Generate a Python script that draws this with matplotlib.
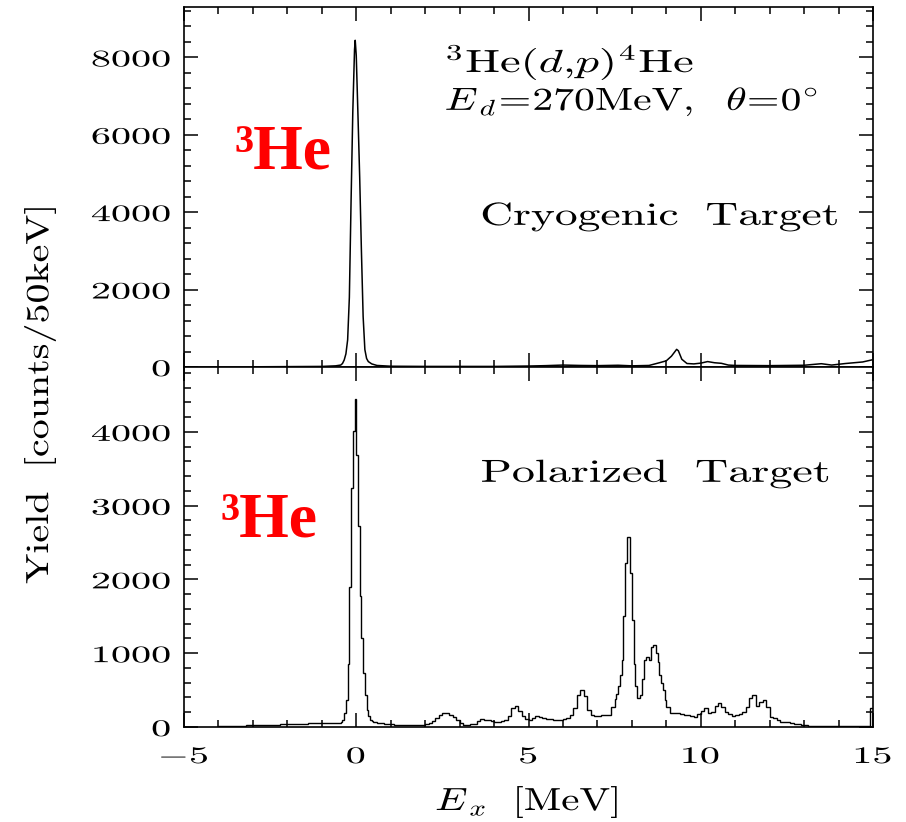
import numpy as np
import matplotlib
matplotlib.use("Agg")
import matplotlib.pyplot as plt
from matplotlib.patheffects import AbstractPathEffect
from matplotlib.transforms import Affine2D
from matplotlib.path import Path
from matplotlib.ticker import MultipleLocator, FuncFormatter

plt.rcParams["mathtext.fontset"] = "cm"
plt.rcParams["font.family"] = "DejaVu Serif"

# --- cryogenic target spectrum (smooth line), E in MeV ---
cryo_E = [-3.0, -2.0, -1.0, -0.6, -0.45, -0.4, -0.35, -0.3, -0.25, -0.2, -0.15, -0.1,
          -0.05, -0.03, 0.0, 0.05, 0.1, 0.15, 0.2, 0.25, 0.3, 0.35, 0.45, 0.6, 1.0,
          2.0, 3.0, 4.0, 5.0, 5.5, 6.0, 6.5, 7.0, 7.6, 8.0, 8.5, 8.8, 9.0, 9.15, 9.3,
          9.35, 9.45, 9.6, 9.8, 10.0, 10.2, 10.4, 10.6, 10.8, 11.0, 12.0, 13.0, 13.5,
          13.8, 14.2, 14.7, 15.0]
cryo_Y = [5, 10, 15, 30, 50, 90, 180, 340, 700, 1800, 4300, 6600,
          8200, 8440, 8050, 6500, 4900, 3000, 1300, 450, 220, 140, 80, 40, 20,
          15, 15, 15, 25, 35, 50, 40, 35, 45, 30, 40, 110, 160, 280, 456,
          420, 200, 90, 80, 100, 140, 110, 95, 50, 40, 35, 45, 85,
          50, 90, 130, 190]

# --- polarized target spectrum (histogram) ---
# 0.1 MeV bins, with 50 keV bins around the two strong peaks
pol_a = [15, 15, 15, 20, 20, 20, 20, 20, 25, 25,          # -4.0 .. -3.0
         25, 25, 30, 30, 30, 30, 30, 30, 35, 35,          # -3.0 .. -2.0
         40, 40, 45, 45, 45, 45, 50, 50, 50, 50,          # -2.0 .. -1.0
         50, 55, 55, 60, 60]                              # -1.0 .. -0.5
pol_b = [60, 70, 95, 190, 370, 860, 1900, 3240, 4010, 4450,   # -0.5 .. 0.0 (50 keV)
         3690, 2720, 1770, 1210, 730, 430, 230, 150, 95, 80]  # 0.0 .. 0.5
pol_c = [65, 55, 50, 45, 40,                                  # 0.5 .. 1.0
         35, 30, 30, 28, 25, 25, 25, 25, 28, 30,              # 1 .. 2
         40, 50, 75, 120, 160, 190, 185, 165, 130, 90,        # 2 .. 3
         50, 30, 27, 35, 45, 80, 104, 100, 95, 80,            # 3 .. 4
         72, 72, 80, 95, 150, 258, 280, 212, 145, 113,        # 4 .. 5
         95, 120, 145, 136, 120, 113, 104, 100, 95, 100,      # 5 .. 6
         110, 125, 167, 260, 440, 507, 420, 235, 167, 154,    # 6 .. 7
         155, 165, 162, 158, 270]                             # 7 .. 7.5
pol_d = [380, 450, 560, 700, 910, 1500, 2220, 2570, 2570, 2085,   # 7.5 .. 8.0 (50 keV)
         1450, 860, 550, 390, 390, 434, 650, 910, 955, 955,       # 8.0 .. 8.5
         909, 1090, 1110, 1110, 1000, 886, 700, 593, 502, 366]   # 8.5 .. 9.0
pol_e = [276, 194, 194, 194, 180, 163, 163, 150, 140, 180,    # 9 .. 10
         222, 260, 195, 210, 280, 330, 270, 210, 176, 154,    # 10 .. 11
         160, 176, 200, 267, 389, 434, 290, 344, 366, 267,    # 11 .. 12
         130, 118, 95, 72, 72, 72, 60, 41, 35, 28,            # 12 .. 13
         23, 20, 18, 15, 15, 14, 14, 14, 14, 14,              # 13 .. 14
         14, 14, 14, 14, 14, 14, 14, 14, 14, 260]             # 14 .. 15

pol_edges = np.round(np.concatenate([
    np.arange(-4.0, -0.5, 0.1),
    np.arange(-0.5, 0.5, 0.05),
    np.arange(0.5, 7.5, 0.1),
    np.arange(7.5, 9.0, 0.05),
    np.arange(9.0, 15.001, 0.1),
]), 3)
pol_Y = np.array(pol_a + pol_b + pol_c + pol_d + pol_e, dtype=float)

x_ticks = [-5, 0, 5, 10, 15]
cryo_yticks = [0, 2000, 4000, 6000, 8000]
pol_yticks = [0, 1000, 2000, 3000, 4000]


class Stretch(AbstractPathEffect):
    """Stretch text horizontally (glyph direction), by factor or to a pixel width."""

    def __init__(self, sx=None, width=None, anchor="left"):
        super().__init__()
        self.sx, self.width, self.anchor = sx, width, anchor

    def draw_path(self, renderer, gc, tpath, affine, rgbFace=None):
        v = tpath.vertices
        if tpath.codes is not None:
            v = v[tpath.codes != Path.CLOSEPOLY]
        x_min, x_max = v[:, 0].min(), v[:, 0].max()
        sx = self.sx or 1.0
        if self.width is not None:
            p0, p1 = affine.transform(np.array([[0.0, 0.0], [1.0, 0.0]]))
            unit = np.hypot(*(p1 - p0))
            sx = self.width / ((x_max - x_min) * unit)
        x0 = {"left": x_min, "right": x_max, "center": 0.5 * (x_min + x_max)}[self.anchor]
        pre = Affine2D().translate(-x0, 0).scale(sx, 1).translate(x0, 0)
        renderer.draw_path(gc, tpath, pre + affine, rgbFace)


W, H = 906, 822
fig = plt.figure(figsize=(W / 100, H / 100), dpi=100)


def fx(px):
    return px / W


def fy(py):
    return 1 - py / H


ax_top = fig.add_axes([fx(184), fy(367), 689 / W, 360 / H])
ax_bot = fig.add_axes([fx(184), fy(727), 689 / W, 360 / H], sharex=ax_top)

ax_top.plot(cryo_E, cryo_Y, color="black", lw=1.1)
ax_bot.stairs(pol_Y, pol_edges, color="black", lw=1.0)

ax_top.set_xlim(-5, 15)
ax_top.set_ylim(0, 9300)
ax_bot.set_ylim(0, 4880)
ax_top.set_yticks(cryo_yticks)
ax_bot.set_yticks(pol_yticks)
ax_bot.set_xticks(x_ticks)
ax_bot.xaxis.set_minor_locator(MultipleLocator(1))
ax_top.yaxis.set_minor_locator(MultipleLocator(400))
ax_bot.yaxis.set_minor_locator(MultipleLocator(200))

math_fmt = FuncFormatter(lambda v, pos: rf"${v:g}$")
for ax in (ax_top, ax_bot):
    ax.xaxis.set_major_formatter(math_fmt)
    ax.yaxis.set_major_formatter(math_fmt)
    for s in ax.spines.values():
        s.set_linewidth(1.2)
    ax.tick_params(which="both", direction="in", top=True, right=True, width=1.1)
    ax.tick_params(which="major", length=10, labelsize=17, pad=9)
    ax.tick_params(which="minor", length=5)
ax_top.tick_params(labelbottom=False)
ax_bot.tick_params(axis="x", pad=13)

for t in ax_top.get_yticklabels() + ax_bot.get_yticklabels():
    t.set_path_effects([Stretch(sx=1.7, anchor="right")])
for t in ax_bot.get_xticklabels():
    t.set_path_effects([Stretch(sx=1.7, anchor="center")])

txt = dict(fontsize=23, color="black", va="baseline")
fig.text(fx(445), fy(72), r"$^{3}\mathrm{He}(d{,}p)^{4}\mathrm{He}$",
         path_effects=[Stretch(width=245)], **txt)
fig.text(fx(445), fy(110), r"$E_{\,d}\!=\!270\mathrm{MeV},\ \ \theta\!=\!0^{\circ}$",
         path_effects=[Stretch(width=370)], **txt)
fig.text(fx(481), fy(225), r"$\mathrm{Cryogenic\ \ Target}$",
         path_effects=[Stretch(width=354)], **txt)
fig.text(fx(481), fy(482), r"$\mathrm{Polarized\ \ Target}$",
         path_effects=[Stretch(width=346)], **txt)

fig.text(fx(40), fy(395), r"$\mathrm{Yield\ \ [counts/50keV]}$", fontsize=23,
         rotation=90, ha="center", va="center",
         path_effects=[Stretch(width=375, anchor="center")])
fig.text(fx(527), fy(810), r"$E_{\,x}\ \ [\mathrm{MeV}]$", fontsize=23,
         ha="center", va="baseline", path_effects=[Stretch(width=180, anchor="center")])

red = dict(color="#ff0000", family="Liberation Serif", weight="bold",
           va="baseline", fontsize=46)
fig.text(fx(234), fy(170), "\u00b3He", **red)
fig.text(fx(220), fy(537), "\u00b3He", **red)

fig.savefig("out.png", dpi=100)
